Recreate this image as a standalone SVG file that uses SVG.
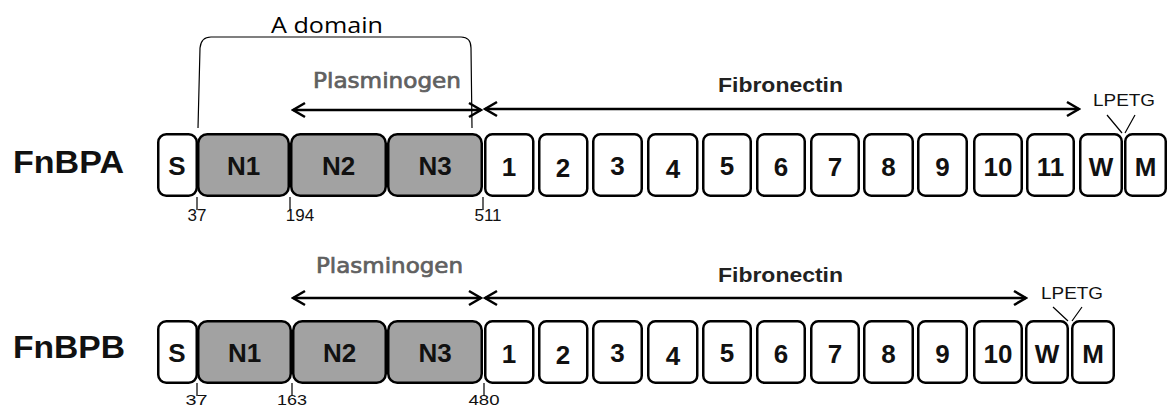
<svg xmlns="http://www.w3.org/2000/svg" width="1169" height="409" viewBox="0 0 1169 409">
  <style>
    .box { fill: #ffffff; stroke: #000000; stroke-width: 2.5; }
    .nbox { fill: #a2a2a2; stroke: #000000; stroke-width: 2.5; }
    .lbl { font-family: "Liberation Sans", Arial, sans-serif; font-weight: bold; font-size: 26px; fill: #111111; text-anchor: middle; }
    .name { font-family: "Liberation Sans", Arial, sans-serif; font-weight: bold; font-size: 31px; fill: #111111; }
    .pos { font-family: "Liberation Sans", Arial, sans-serif; font-size: 17px; fill: #111111; text-anchor: middle; }
    .pos2 { font-family: "Liberation Sans", Arial, sans-serif; font-size: 15px; fill: #111111; text-anchor: middle; }
    .tick { stroke: #000000; stroke-width: 1.2; fill: none; }
    .plg { font-family: "DejaVu Sans", sans-serif; font-size: 21px; fill: #606060; stroke: #606060; stroke-width: 0.7; }
    .fn { font-family: "Liberation Sans", Arial, sans-serif; font-weight: bold; font-size: 20px; fill: #222222; }
    .motif { font-family: "Liberation Sans", Arial, sans-serif; font-size: 16px; fill: #111111; text-anchor: middle; }
    .arrow { stroke: #000000; stroke-width: 2.6; fill: none; marker-start: url(#chev); marker-end: url(#chev); }
    .thin { stroke: #000000; stroke-width: 1.2; fill: none; }
    .dom { font-family: "Open Sans", "DejaVu Sans", sans-serif; font-size: 21px; fill: #000000; text-anchor: middle; }
  </style>
  <defs>
    <marker id="chev" viewBox="-14 -9 16 18" refX="0" refY="0" markerWidth="16" markerHeight="18" markerUnits="userSpaceOnUse" orient="auto-start-reverse">
      <path d="M-12,-7 L0,0 L-12,7" fill="none" stroke="#000000" stroke-width="2.6" stroke-linejoin="miter"/>
    </marker>
  </defs>

  <!-- A domain bracket -->
  <g id="a-domain">
    <path class="thin" d="M198,128 L200,48 Q201,37 211,37 L461,37 Q471,37 471,48 L472,128"/>
    <text class="dom" x="327" y="33" textLength="112" lengthAdjust="spacingAndGlyphs">A domain</text>
  </g>

  <!-- FnBPA -->
  <g id="fnbpa">
    <text class="name" x="13" y="173" textLength="111" lengthAdjust="spacingAndGlyphs">FnBPA</text>
    <g id="fnbpa-S"><rect class="box" x="158.25" y="134.25" width="38.5" height="61.5" rx="8"/><text class="lbl" x="177" y="175">S</text></g>
    <g id="fnbpa-N1"><rect class="nbox" x="198.25" y="134.25" width="90.5" height="61.5" rx="9"/><text class="lbl" x="243.5" y="175">N1</text></g>
    <g id="fnbpa-N2"><rect class="nbox" x="291.25" y="134.25" width="94.5" height="61.5" rx="9"/><text class="lbl" x="338.5" y="175">N2</text></g>
    <g id="fnbpa-N3"><rect class="nbox" x="388.25" y="134.25" width="93.5" height="61.5" rx="9"/><text class="lbl" x="435" y="175">N3</text></g>
    <g id="fnbpa-1"><rect class="box" x="485.25" y="134.25" width="48" height="61.5" rx="7"/><text class="lbl" x="509" y="176">1</text></g>
    <g id="fnbpa-2"><rect class="box" x="539.25" y="134.25" width="48" height="61.5" rx="7"/><text class="lbl" x="563" y="177">2</text></g>
    <g id="fnbpa-3"><rect class="box" x="593.25" y="134.25" width="48.5" height="61.5" rx="7"/><text class="lbl" x="617.5" y="175">3</text></g>
    <g id="fnbpa-4"><rect class="box" x="648.25" y="134.25" width="49" height="61.5" rx="7"/><text class="lbl" x="673" y="178">4</text></g>
    <g id="fnbpa-5"><rect class="box" x="703.25" y="134.25" width="47.5" height="61.5" rx="7"/><text class="lbl" x="727" y="175">5</text></g>
    <g id="fnbpa-6"><rect class="box" x="757.25" y="134.25" width="47.5" height="61.5" rx="7"/><text class="lbl" x="781" y="176">6</text></g>
    <g id="fnbpa-7"><rect class="box" x="811.25" y="134.25" width="47.5" height="61.5" rx="7"/><text class="lbl" x="835" y="176">7</text></g>
    <g id="fnbpa-8"><rect class="box" x="864.25" y="134.25" width="48.5" height="61.5" rx="7"/><text class="lbl" x="888.5" y="176">8</text></g>
    <g id="fnbpa-9"><rect class="box" x="918.25" y="134.25" width="48.5" height="61.5" rx="7"/><text class="lbl" x="942.5" y="176">9</text></g>
    <g id="fnbpa-10"><rect class="box" x="974.25" y="134.25" width="47.5" height="61.5" rx="7"/><text class="lbl" x="998" y="176">10</text></g>
    <g id="fnbpa-11"><rect class="box" x="1027.25" y="134.25" width="46.5" height="61.5" rx="7"/><text class="lbl" x="1050.5" y="176">11</text></g>
    <g id="fnbpa-W"><rect class="box" x="1080.25" y="134.25" width="41.5" height="61.5" rx="7"/><text class="lbl" x="1101" y="176">W</text></g>
    <g id="fnbpa-M"><rect class="box" x="1125.25" y="134.25" width="40.5" height="61.5" rx="7"/><text class="lbl" x="1145.5" y="176">M</text></g>
    <g id="fnbpa-positions">
      <path class="tick" d="M197,197 V210 M290,197 V210 M483,197 V210"/>
      <text class="pos" x="197" y="221">37</text>
      <text class="pos" x="300" y="221">194</text>
      <text class="pos" x="488" y="221">511</text>
    </g>
    <g id="fnbpa-lpetg">
      <text class="motif" x="1124" y="106" textLength="62" lengthAdjust="spacingAndGlyphs">LPETG</text>
      <path class="thin" d="M1107,115 L1122,133 M1135,115 L1125,133"/>
    </g>
  </g>

  <!-- FnBPB -->
  <g id="fnbpb">
    <text class="name" x="13" y="358" textLength="112" lengthAdjust="spacingAndGlyphs">FnBPB</text>
    <g id="fnbpb-S"><rect class="box" x="158.25" y="321.25" width="38.5" height="61.5" rx="8"/><text class="lbl" x="177" y="362">S</text></g>
    <g id="fnbpb-N1"><rect class="nbox" x="198.25" y="321.25" width="92.5" height="61.5" rx="9"/><text class="lbl" x="244.5" y="362">N1</text></g>
    <g id="fnbpb-N2"><rect class="nbox" x="293.25" y="321.25" width="92.5" height="61.5" rx="9"/><text class="lbl" x="339.5" y="362">N2</text></g>
    <g id="fnbpb-N3"><rect class="nbox" x="388.25" y="321.25" width="93.5" height="61.5" rx="9"/><text class="lbl" x="435" y="362">N3</text></g>
    <g id="fnbpb-1"><rect class="box" x="485.25" y="321.25" width="48" height="61.5" rx="7"/><text class="lbl" x="509" y="363">1</text></g>
    <g id="fnbpb-2"><rect class="box" x="539.25" y="321.25" width="48" height="61.5" rx="7"/><text class="lbl" x="563" y="364">2</text></g>
    <g id="fnbpb-3"><rect class="box" x="593.25" y="321.25" width="48.5" height="61.5" rx="7"/><text class="lbl" x="617.5" y="362">3</text></g>
    <g id="fnbpb-4"><rect class="box" x="648.25" y="321.25" width="49" height="61.5" rx="7"/><text class="lbl" x="673" y="365">4</text></g>
    <g id="fnbpb-5"><rect class="box" x="703.25" y="321.25" width="47.5" height="61.5" rx="7"/><text class="lbl" x="727" y="362">5</text></g>
    <g id="fnbpb-6"><rect class="box" x="757.25" y="321.25" width="47.5" height="61.5" rx="7"/><text class="lbl" x="781" y="363">6</text></g>
    <g id="fnbpb-7"><rect class="box" x="811.25" y="321.25" width="47.5" height="61.5" rx="7"/><text class="lbl" x="835" y="363">7</text></g>
    <g id="fnbpb-8"><rect class="box" x="864.25" y="321.25" width="48.5" height="61.5" rx="7"/><text class="lbl" x="888.5" y="363">8</text></g>
    <g id="fnbpb-9"><rect class="box" x="918.25" y="321.25" width="48.5" height="61.5" rx="7"/><text class="lbl" x="942.5" y="363">9</text></g>
    <g id="fnbpb-10"><rect class="box" x="974.25" y="321.25" width="47.5" height="61.5" rx="7"/><text class="lbl" x="998" y="363">10</text></g>
    <g id="fnbpb-W"><rect class="box" x="1026.25" y="321.25" width="41.5" height="61.5" rx="7"/><text class="lbl" x="1047" y="363">W</text></g>
    <g id="fnbpb-M"><rect class="box" x="1072.25" y="321.25" width="41.5" height="61.5" rx="7"/><text class="lbl" x="1093" y="363">M</text></g>
    <g id="fnbpb-positions">
      <path class="tick" d="M197,383 V396 M292,383 V396 M484,383 V396"/>
      <text class="pos2" x="196.5" y="405" textLength="22" lengthAdjust="spacingAndGlyphs">37</text>
      <text class="pos2" x="292" y="405" textLength="30" lengthAdjust="spacingAndGlyphs">163</text>
      <text class="pos2" x="484" y="405" textLength="31" lengthAdjust="spacingAndGlyphs">480</text>
    </g>
    <g id="fnbpb-lpetg">
      <text class="motif" x="1072" y="299" textLength="62" lengthAdjust="spacingAndGlyphs">LPETG</text>
      <path class="thin" d="M1053,307 L1068,321 M1082,307 L1072,321"/>
    </g>
  </g>

  <!-- binding region labels -->
  <g id="binding-labels">
    <text class="plg" x="313" y="88" textLength="148" lengthAdjust="spacingAndGlyphs">Plasminogen</text>
    <text class="fn" x="718" y="92" textLength="125" lengthAdjust="spacingAndGlyphs">Fibronectin</text>
    <text class="plg" x="316" y="273" textLength="147" lengthAdjust="spacingAndGlyphs">Plasminogen</text>
    <text class="fn" x="718" y="282" textLength="125" lengthAdjust="spacingAndGlyphs">Fibronectin</text>
  </g>

  <!-- binding region arrows -->
  <g id="connectors">
    <path class="arrow" d="M293,110 H481"/>
    <path class="arrow" d="M485,109 H1079"/>
    <path class="arrow" d="M293,298 H481"/>
    <path class="arrow" d="M485,298 H1026"/>
  </g>
</svg>
